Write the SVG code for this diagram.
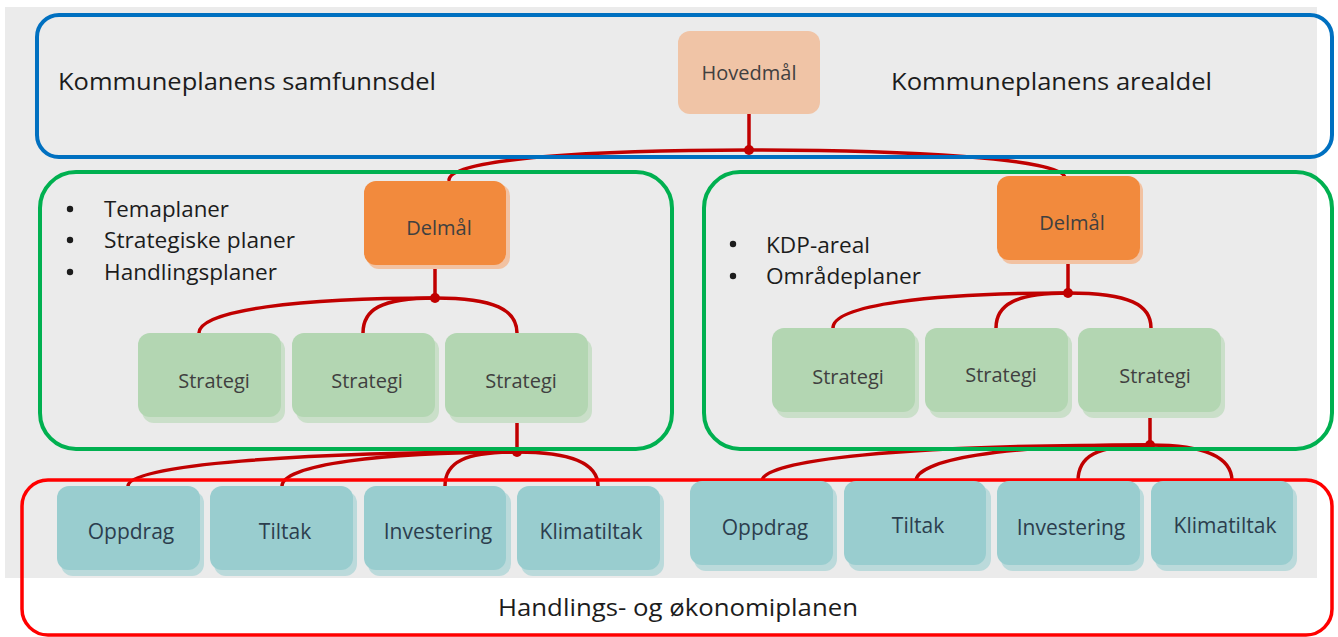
<svg xmlns="http://www.w3.org/2000/svg" width="1338" height="637" viewBox="0 0 1338 637">
<style>
text{font-family:"Open Sans","Liberation Sans",sans-serif;}
.title{font-size:24px;fill:#1c1c1c;}
.bul{font-size:22px;fill:#1c1c1c;}
.lbl{font-size:20px;fill:#404040;text-anchor:middle;}
.lblb{font-size:21px;fill:#2c3e4e;text-anchor:middle;}
.con{fill:none;stroke:#C00000;stroke-width:3.5;stroke-linecap:round;}
.dot{fill:#C00000;}
.hov{fill:#F0C4A6;}
.del{fill:#F28A3D;}
.delS{fill:#F2C2A2;}
.str{fill:#B3D6B2;}
.strS{fill:#CADFC9;}
.bot{fill:#99CDCF;}
.botS{fill:#BBDADB;}
.box{fill:none;}
</style>
<rect x="0" y="0" width="1338" height="637" fill="#ffffff"/>
<rect x="5" y="7" width="1312" height="571" fill="#EBEBEB"/>

<g id="connectors">
<path class="con" d="M749 113 V150"/>
<path class="con" d="M749 150 C600 150 449 158 449 180"/>
<path class="con" d="M749 150 C900 150 1065 158 1065 178"/>
<circle class="dot" cx="749" cy="150" r="5"/>

<path class="con" d="M435 265 V298"/>
<path class="con" d="M435 298 C300 298 199 310 199 333"/>
<path class="con" d="M435 298 C380 298 363 310 363 333"/>
<path class="con" d="M435 298 C495 298 517 310 517 333"/>
<circle class="dot" cx="435" cy="298" r="5"/>

<path class="con" d="M1068 260 V293"/>
<path class="con" d="M1068 293 C930 293 833 305 833 328"/>
<path class="con" d="M1068 293 C1015 293 996 305 996 328"/>
<path class="con" d="M1068 293 C1130 293 1151 305 1151 328"/>
<circle class="dot" cx="1068" cy="293" r="5"/>

<path class="con" d="M517 417 V452"/>
<path class="con" d="M517 452 C300 452 128 465 128 486"/>
<path class="con" d="M517 452 C380 452 282 465 282 486"/>
<path class="con" d="M517 452 C465 452 445 462 445 486"/>
<path class="con" d="M517 452 C575 452 598 465 598 486"/>
<circle class="dot" cx="517" cy="452" r="5"/>

<path class="con" d="M1150 411 V445"/>
<path class="con" d="M1150 445 C900 445 762 460 762 481"/>
<path class="con" d="M1150 445 C1000 445 916 460 916 481"/>
<path class="con" d="M1150 445 C1095 445 1078 457 1078 481"/>
<path class="con" d="M1150 445 C1210 445 1232 460 1232 481"/>
<circle class="dot" cx="1150" cy="445" r="5"/>
</g>

<g id="samfunnsdel">
<rect class="box" x="37" y="15" width="1295" height="142" rx="22" stroke="#0070C0" stroke-width="4"/>
<text class="title" x="58" y="90" textLength="378" lengthAdjust="spacingAndGlyphs">Kommuneplanens samfunnsdel</text>
<text class="title" x="891" y="90" textLength="321" lengthAdjust="spacingAndGlyphs">Kommuneplanens arealdel</text>
</g>

<g id="tema">
<rect class="box" x="40" y="172" width="632" height="277" rx="36" stroke="#00B050" stroke-width="4"/>
<circle cx="70" cy="209" r="3.2" fill="#1c1c1c"/>
<circle cx="70" cy="240" r="3.2" fill="#1c1c1c"/>
<circle cx="70" cy="272" r="3.2" fill="#1c1c1c"/>
<text class="bul" x="104" y="217" textLength="125" lengthAdjust="spacingAndGlyphs">Temaplaner</text>
<text class="bul" x="104" y="248" textLength="191" lengthAdjust="spacingAndGlyphs">Strategiske planer</text>
<text class="bul" x="104" y="280" textLength="173" lengthAdjust="spacingAndGlyphs">Handlingsplaner</text>
</g>

<g id="areal">
<rect class="box" x="704" y="172" width="628" height="277" rx="36" stroke="#00B050" stroke-width="4"/>
<circle cx="733" cy="244" r="3.2" fill="#1c1c1c"/>
<circle cx="733" cy="276" r="3.2" fill="#1c1c1c"/>
<text class="bul" x="766" y="253" textLength="104" lengthAdjust="spacingAndGlyphs">KDP-areal</text>
<text class="bul" x="766" y="284" textLength="155" lengthAdjust="spacingAndGlyphs">Områdeplaner</text>
</g>

<g id="handling">
<rect class="box" x="22" y="480" width="1310" height="155" rx="26" stroke="#FF0000" stroke-width="3.5"/>
<text class="title" x="498" y="616" textLength="360" lengthAdjust="spacingAndGlyphs">Handlings- og økonomiplanen</text>
</g>

<g id="hovedmal">
<rect class="hov" x="678" y="31" width="142" height="83" rx="12"/>
<text class="lbl" x="749" y="80">Hovedmål</text>
</g>

<g id="delmal-1">
<rect class="delS" x="367" y="184" width="143" height="85" rx="12"/>
<rect class="del" x="364" y="181" width="142" height="84" rx="12"/>
<text class="lbl" x="439" y="235">Delmål</text>
</g>
<g id="delmal-2">
<rect class="delS" x="1000" y="179" width="143" height="85" rx="12"/>
<rect class="del" x="997" y="176" width="143" height="84" rx="12"/>
<text class="lbl" x="1072" y="230">Delmål</text>
</g>

<g id="strategi-1"><rect class="strS" x="142" y="338" width="143" height="85" rx="12"/><rect class="str" x="138" y="333" width="143" height="84" rx="12"/><text class="lbl" x="214" y="388">Strategi</text></g>
<g id="strategi-2"><rect class="strS" x="296" y="338" width="143" height="85" rx="12"/><rect class="str" x="292" y="333" width="143" height="84" rx="12"/><text class="lbl" x="367" y="388">Strategi</text></g>
<g id="strategi-3"><rect class="strS" x="449" y="338" width="143" height="85" rx="12"/><rect class="str" x="445" y="333" width="143" height="84" rx="12"/><text class="lbl" x="521" y="388">Strategi</text></g>
<g id="strategi-4"><rect class="strS" x="776" y="333" width="143" height="85" rx="12"/><rect class="str" x="772" y="328" width="143" height="84" rx="12"/><text class="lbl" x="848" y="384">Strategi</text></g>
<g id="strategi-5"><rect class="strS" x="929" y="333" width="143" height="85" rx="12"/><rect class="str" x="925" y="328" width="143" height="84" rx="12"/><text class="lbl" x="1001" y="382">Strategi</text></g>
<g id="strategi-6"><rect class="strS" x="1082" y="333" width="143" height="85" rx="12"/><rect class="str" x="1078" y="328" width="143" height="84" rx="12"/><text class="lbl" x="1155" y="383">Strategi</text></g>

<g id="oppdrag-1"><rect class="botS" x="61" y="491" width="143" height="85" rx="12"/><rect class="bot" x="57" y="486" width="143" height="84" rx="12"/><text class="lblb" x="131" y="539">Oppdrag</text></g>
<g id="tiltak-1"><rect class="botS" x="214" y="491" width="143" height="85" rx="12"/><rect class="bot" x="210" y="486" width="143" height="84" rx="12"/><text class="lblb" x="285" y="539">Tiltak</text></g>
<g id="investering-1"><rect class="botS" x="368" y="491" width="143" height="85" rx="12"/><rect class="bot" x="364" y="486" width="142" height="84" rx="12"/><text class="lblb" x="438" y="539">Investering</text></g>
<g id="klimatiltak-1"><rect class="botS" x="521" y="491" width="143" height="85" rx="12"/><rect class="bot" x="517" y="486" width="143" height="84" rx="12"/><text class="lblb" x="591" y="539">Klimatiltak</text></g>

<g id="oppdrag-2"><rect class="botS" x="694" y="486" width="143" height="85" rx="12"/><rect class="bot" x="690" y="481" width="143" height="84" rx="12"/><text class="lblb" x="765" y="535">Oppdrag</text></g>
<g id="tiltak-2"><rect class="botS" x="848" y="486" width="143" height="85" rx="12"/><rect class="bot" x="844" y="481" width="142" height="84" rx="12"/><text class="lblb" x="918" y="533">Tiltak</text></g>
<g id="investering-2"><rect class="botS" x="1001" y="486" width="143" height="85" rx="12"/><rect class="bot" x="997" y="481" width="143" height="84" rx="12"/><text class="lblb" x="1071" y="535">Investering</text></g>
<g id="klimatiltak-2"><rect class="botS" x="1155" y="486" width="142" height="85" rx="12"/><rect class="bot" x="1151" y="481" width="142" height="84" rx="12"/><text class="lblb" x="1225" y="533">Klimatiltak</text></g>
</svg>
